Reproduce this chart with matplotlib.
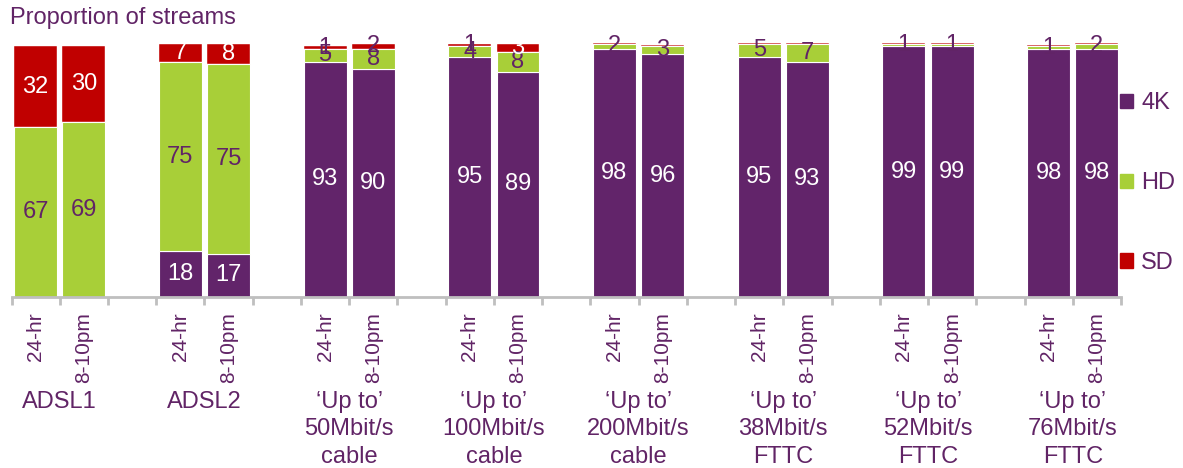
import matplotlib
matplotlib.use("Agg")
import matplotlib.pyplot as plt
from matplotlib.patches import Patch
from matplotlib.transforms import blended_transform_factory
import numpy as np

plt.rcParams['font.family'] = ['Liberation Sans', 'DejaVu Sans']

groups = ["ADSL1", "ADSL2", "\u2018Up to\u2019\n50Mbit/s\ncable", "\u2018Up to\u2019\n100Mbit/s\ncable",
          "\u2018Up to\u2019\n200Mbit/s\ncable", "\u2018Up to\u2019\n38Mbit/s\nFTTC",
          "\u2018Up to\u2019\n52Mbit/s\nFTTC", "\u2018Up to\u2019\n76Mbit/s\nFTTC"]
periods = ["24-hr", "8-10pm"]

# values per bar (group-major, 24-hr then 8-10pm)
k4 = [0, 0, 18, 17, 93, 90, 95, 89, 98, 96, 95, 93, 99, 99, 98, 98]
hd = [67, 69, 75, 75, 5, 8, 4, 8, 2, 3, 5, 7, 1, 1, 1, 2]
sd = [32, 30, 7, 8, 1, 2, 1, 3, 0.5, 0.5, 0.5, 0.5, 0.5, 0.5, 0.5, 0.5]

PURPLE = "#62246A"
GREEN = "#A8CF38"
RED = "#C00000"
TXT = "#612466"

fig = plt.figure(figsize=(11.83, 4.68), dpi=100)
ax = fig.add_axes([11.5 / 1183, (468 - 297) / 468, 1109.5 / 1183, 254.3 / 468])

pos = np.array([3 * g + b for g in range(len(groups)) for b in range(2)])
k4a, hda, sda = np.array(k4, float), np.array(hd, float), np.array(sd, float)
w = 0.89
ax.bar(pos, k4a, w, color=PURPLE, edgecolor="white", linewidth=0.8, label="4K")
ax.bar(pos, hda, w, bottom=k4a, color=GREEN, edgecolor="white", linewidth=0.8, label="HD")
ax.bar(pos, sda, w, bottom=k4a + hda, color=RED, edgecolor="white", linewidth=0.3, label="SD")

for i, p in enumerate(pos):
    if k4a[i] >= 1:
        ax.text(p, k4a[i] / 2, f"{int(k4a[i])}", ha="center", va="center", color="white", fontsize=17)
    if hda[i] >= 1:
        ax.text(p, k4a[i] + hda[i] / 2, f"{int(hda[i])}", ha="center", va="center", color=TXT, fontsize=17)
    if sda[i] >= 1:
        c = "white" if sda[i] >= 3 else TXT
        ax.text(p, k4a[i] + hda[i] + sda[i] / 2, f"{int(sda[i])}", ha="center", va="center", color=c, fontsize=17)

ax.set_xlim(-0.5, 22.5)
ax.set_ylim(0, 100.5)
ax.set_yticks([])
for s in ["top", "right", "left"]:
    ax.spines[s].set_visible(False)
ax.spines["bottom"].set_color("#BFBFBF")
ax.spines["bottom"].set_linewidth(2)

ax.set_xticks(pos)
ax.set_xticklabels(periods * len(groups), rotation=90, va="top", ha="center", color=TXT, fontsize=15)
ax.tick_params(axis="x", which="major", length=0, pad=11)
ax.set_xticks(np.arange(-0.5, 23, 1), minor=True)
ax.tick_params(axis="x", which="minor", length=6, width=2, color="#BFBFBF")

tr = blended_transform_factory(ax.transData, fig.transFigure)
for g, name in enumerate(groups):
    ax.text(3 * g + 0.5, 1 - 391 / 468, name, transform=tr, ha="center", va="top",
            color=TXT, fontsize=17, linespacing=1.32)

fig.text(10 / 1183, 1 - 18 / 468, "Proportion of streams", ha="left", va="center", color=TXT, fontsize=17)

handles = [Patch(color=PURPLE), Patch(color=GREEN), Patch(color=RED)]
leg = fig.legend(handles, ["4K", "HD", "SD"], loc="center left", bbox_to_anchor=(1120 / 1183, 1 - 183 / 468),
                 frameon=False, fontsize=17, handlelength=0.55, handleheight=0.55, labelspacing=2.45,
                 handletextpad=0.35, borderpad=0, borderaxespad=0)
for t in leg.get_texts():
    t.set_color(TXT)

fig.savefig("out.png", dpi=100)
